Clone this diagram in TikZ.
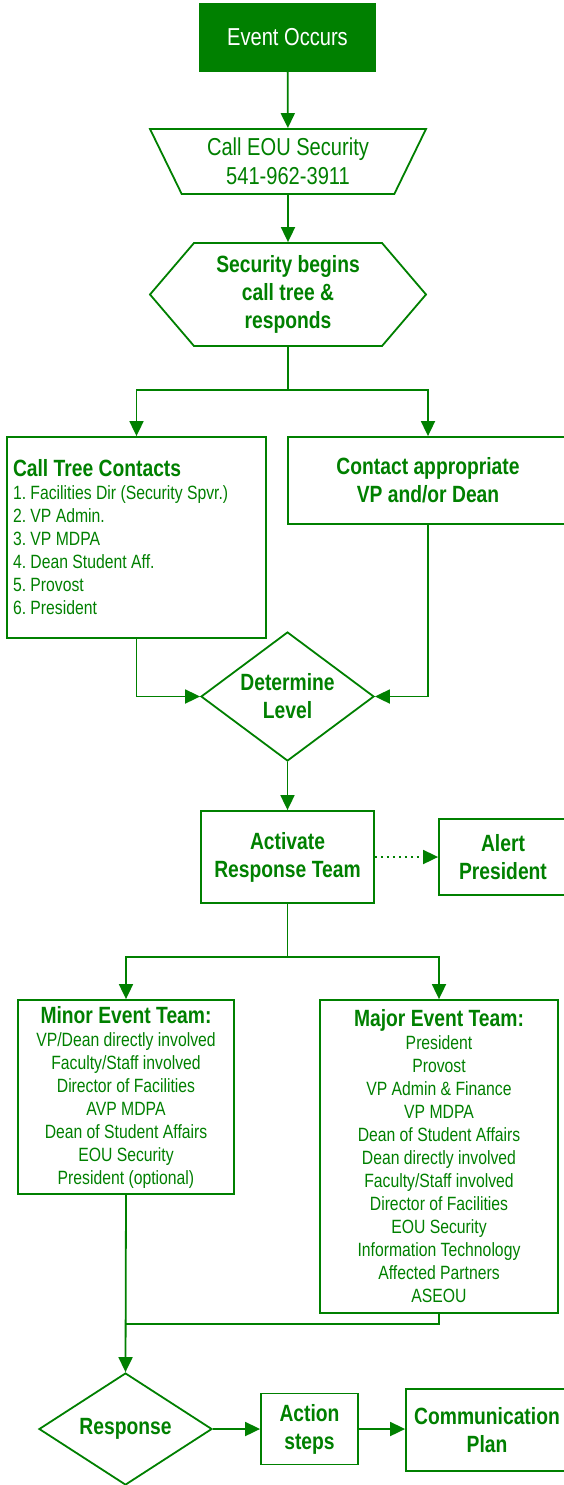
\documentclass[tikz,border=0pt]{standalone}
\usepackage{fontspec}
\setmainfont{Liberation Sans}[FakeStretch=0.82]
\usepackage{tikz}
\usetikzlibrary{arrows.meta,shapes.geometric,shapes.symbols}
\definecolor{eougreen}{RGB}{0,128,0}
\newcommand{\headtext}{\fontsize{23.5}{28}\selectfont\bfseries}
\newcommand{\listtext}{\fontsize{19.2}{23}\selectfont}
\newcommand{\bigtext}{\fontsize{24.5}{29}\selectfont}
\frenchspacing

\begin{document}
\begin{tikzpicture}[x=1pt, y=-1pt,
        box/.style={draw=eougreen, line width=1.8pt, text=eougreen, align=center, font=\headtext, inner sep=0pt,
            execute at begin node={\spaceskip=0pt\xspaceskip=0pt}},
        listbox/.style={box, align=flush center, font=\listtext},
        wire/.style={draw=eougreen, line width=1.8pt},
        link/.style={wire, -{Triangle[length=15pt,width=14pt]}}]
        \path[use as bounding box, fill=white] (0,0) rectangle (564,1485);

        \node[box, fill=eougreen, text=white, font=\bigtext, minimum width=175pt, minimum height=67pt] (event) at (287.5,37.5) {Event Occurs};
        \node[box, trapezium, trapezium stretches body, trapezium angle=56, shape border rotate=180, minimum width=276pt, minimum height=65pt, font=\bigtext] (callsec) at (288,161.5) {Call EOU Security\\541-962-3911};
        \node[box, signal, signal to=west and east, signal pointer angle=99, minimum width=276pt, minimum height=103pt] (tree) at (288,294.5) {Security begins\\call tree \&\\responds};

        \node[listbox, text width=247pt, align=flush left, inner xsep=6pt, minimum height=201pt] (contacts) at (136.5,537.5) {{\headtext Call Tree Contacts\par}1. Facilities Dir (Security Spvr.)\\2. VP Admin.\\3. VP MDPA\\4. Dean Student Aff.\\5. Provost\\6. President};
        \node[box, minimum width=280pt, minimum height=87pt] (vpdean) at (428,480.5) {Contact appropriate\\VP and/or Dean};
        \node[box, diamond, aspect=1.34, minimum width=173pt, minimum height=129pt] (level) at (287.5,696.5) {Determine\\Level};

        \node[box, minimum width=173pt, minimum height=92pt] (activate) at (287.5,857) {Activate\\Response Team};
        \node[box, minimum width=128pt, minimum height=76pt] (alert) at (503,857) {Alert\\President};

        \node[listbox, text width=216pt, minimum height=194pt] (minor) at (126,1097) {{\headtext Minor Event Team:\par}VP/Dean directly involved\\Faculty/Staff involved\\Director of Facilities\\AVP MDPA\\Dean of Student Affairs\\EOU Security\\President (optional)};
        \node[listbox, text width=238pt, minimum height=313pt] (major) at (439,1156.5) {{\headtext Major Event Team:\par}President\\Provost\\VP Admin \& Finance\\VP MDPA\\Dean of Student Affairs\\Dean directly involved\\Faculty/Staff involved\\Director of Facilities\\EOU Security\\Information Technology\\Affected Partners\\ASEOU};

        \node[box, diamond, aspect=1.54, minimum width=173pt, minimum height=112pt] (response) at (125.5,1429) {Response};
        \node[box, minimum width=97pt, minimum height=71pt] (action) at (309.5,1429) {Action\\steps};
        \node[box, minimum width=162pt, minimum height=82pt] (commplan) at (487,1430) {Communication\\Plan};

        \coordinate (fork1) at (288,390);
        \coordinate (fork2) at (287.5,957);
        \coordinate (merge) at (126,1324);

        \draw[link] (event) -- (callsec);
        \draw[link] (callsec) -- (tree);
        \draw[wire] (tree) -- (fork1);
        \draw[link] (fork1) -| (contacts.north);
        \draw[link] (fork1) -| (vpdean.north);
        \draw[link] (contacts.south) |- (level.west);
        \draw[link] (vpdean.south) |- (level.east);
        \draw[link] (level) -- (activate);
        \draw[link, dash pattern=on 2pt off 4pt] (activate) -- (alert);
        \draw[wire] (activate) -- (fork2);
        \draw[link] (fork2) -| (minor.north);
        \draw[link] (fork2) -| (major.north);
        \draw[wire] (major.south) |- (merge);
        \draw[link] (minor.south) -- (response.north);
        \draw[link] (response) -- (action);
        \draw[link] (action.east) -- (action.east -| commplan.west);
    \end{tikzpicture}
\end{document}
